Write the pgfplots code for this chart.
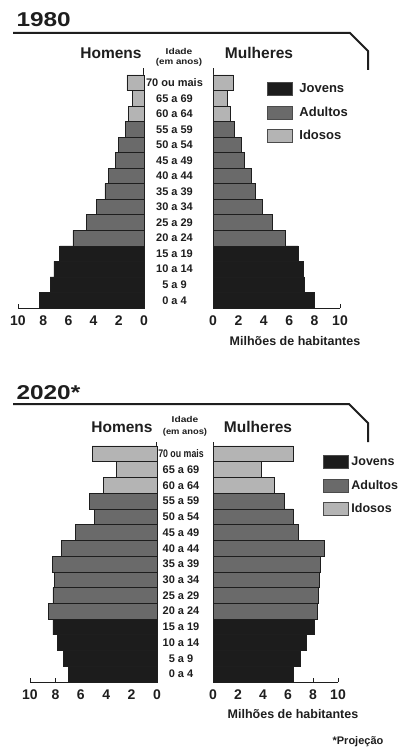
\documentclass[border=0pt]{standalone}
\usepackage{pgfplots}
\pgfplotsset{compat=1.18}
\usepackage{fontspec}
\setmainfont{Liberation Sans}
\definecolor{jov}{HTML}{1C1C1C}
\definecolor{adu}{HTML}{6A6A6A}
\definecolor{ido}{HTML}{B4B4B4}
\definecolor{ink}{HTML}{1E1E1E}
\newcommand{\fs}[1]{\fontsize{#1}{#1}\selectfont}
\newlength{\leggap}
\pgfplotsset{
  pyr/.style={
    scale only axis, anchor=south west,
    xbar, xmin=0, xmax=10, xtick={0,2,...,10}, ytick={0,...,14},
    axis x line*=bottom,
    axis line style={ink, line width=1pt, -},
    xtick align=inside, major tick length=4pt,
    tick style={ink, line width=0.8pt}, ytick style={draw=none},
    xticklabel style={font=\fs{14}\bfseries, text=ink, yshift=-4pt},
    /pgf/number format/assume math mode=true,
    clip=false,
  },
  barst/.style={xbar, bar shift=0pt, bar width=1, draw=ink, line width=0.6pt,
    legend image code/.code={\draw[##1, draw=ink!80, line width=0.5pt] (0pt,-6.5pt) rectangle (25pt,6.5pt); \path[draw=none, fill=none] (0pt,0pt) -- (\leggap,0pt);}},
  leg/.style={legend style={draw=none, fill=none, inner sep=0pt,
    text=ink, row sep=10pt, nodes={inner sep=1pt}},
    legend cell align=left},
}
\begin{document}
\begin{tikzpicture}
\fill[white] (0pt,0pt) rectangle (401pt,-749pt);
% ---------- 1980 ----------
\node[font=\fs{20}\bfseries, anchor=base west, text=ink] at (13pt,-26.5pt) {\scalebox{1.22}[1]{1980}};
\draw[ink, line width=2pt] (13pt,-33pt) -- (350pt,-33pt) -- (368pt,-51pt) -- (368pt,-70pt);
\node[font=\fs{15.5}\bfseries, text=ink] at (111pt,-53pt) {Homens};
\node[font=\fs{15.5}\bfseries, text=ink] at (259pt,-53pt) {Mulheres};
\node[font=\fs{8.5}\bfseries, text=ink] at (179pt,-51pt) {\scalebox{1.2}[1]{Idade}};
\node[font=\fs{8.5}\bfseries, text=ink] at (179pt,-62pt) {\scalebox{1.15}[1]{(em anos)}};
\node[font=\fs{12.5}\bfseries, text=ink] at (295pt,-341pt) {Milhões de habitantes};

\begin{axis}[pyr, at={(18pt,-308pt)}, width=126pt, height=240pt,
  x dir=reverse, ymin=-0.5, ymax=14.95, axis y line*=right, yticklabels={}]
\addplot[barst, fill=jov] coordinates {(8.3,0) (7.45,1) (7.15,2) (6.7,3)};
\addplot[barst, fill=adu] coordinates {(5.65,4) (4.6,5) (3.75,6) (3.1,7) (2.85,8) (2.3,9) (2.0,10) (1.5,11)};
\addplot[barst, fill=ido] coordinates {(1.25,12) (0.95,13) (1.35,14)};
\end{axis}

\setlength{\leggap}{31pt}
\begin{axis}[pyr, leg, at={(213pt,-308pt)}, width=127pt, height=240pt,
  ymin=-0.5, ymax=14.95, axis y line*=left,
  yticklabels={0 a 4,5 a 9,10 a 14,15 a 19,20 a 24,25 a 29,30 a 34,35 a 39,40 a 44,45 a 49,50 a 54,55 a 59,60 a 64,65 a 69,70 ou mais},
  yticklabel style={anchor=center, xshift=-34.5pt, font=\fs{11}\bfseries, text=ink},
  legend style={at={(0.425,0.942)}, anchor=north west, font=\fs{13}\bfseries}]
\addplot[barst, fill=jov] coordinates {(8.0,0) (7.2,1) (7.1,2) (6.7,3)};
\addplot[barst, fill=adu] coordinates {(5.7,4) (4.7,5) (3.9,6) (3.3,7) (3.0,8) (2.5,9) (2.25,10) (1.7,11)};
\addplot[barst, fill=ido] coordinates {(1.35,12) (1.1,13) (1.6,14)};
\legend{Jovens, Adultos, Idosos}
\end{axis}

% ---------- 2020 ----------
\node[font=\fs{20}\bfseries, anchor=base west, text=ink] at (13pt,-399.5pt) {\scalebox{1.22}[1]{2020*}};
\draw[ink, line width=2pt] (13pt,-404pt) -- (349pt,-404pt) -- (368pt,-423pt) -- (368pt,-442pt);
\node[font=\fs{15.5}\bfseries, text=ink] at (122pt,-427pt) {Homens};
\node[font=\fs{15.5}\bfseries, text=ink] at (258pt,-427pt) {Mulheres};
\node[font=\fs{8.5}\bfseries, text=ink] at (185pt,-419pt) {\scalebox{1.2}[1]{Idade}};
\node[font=\fs{8.5}\bfseries, text=ink] at (185pt,-432pt) {\scalebox{1.1}[1]{(em anos)}};
\node[font=\fs{12.5}\bfseries, text=ink] at (293pt,-714pt) {Milhões de habitantes};
\node[font=\fs{11}\bfseries, text=ink] at (358pt,-742pt) {*Projeção};

\begin{axis}[pyr, at={(30pt,-682pt)}, width=127pt, height=240pt,
  x dir=reverse, ymin=-0.5, ymax=14.75, axis y line*=right, yticklabels={}]
\addplot[barst, fill=jov] coordinates {(7.0,0) (7.4,1) (7.85,2) (8.2,3)};
\addplot[barst, fill=adu] coordinates {(8.55,4) (8.2,5) (8.1,6) (8.25,7) (7.5,8) (6.45,9) (4.95,10) (5.35,11)};
\addplot[barst, fill=ido] coordinates {(4.25,12) (3.2,13) (5.1,14)};
\end{axis}

\setlength{\leggap}{27pt}
\begin{axis}[pyr, leg, at={(213pt,-682pt)}, width=125pt, height=240pt,
  ymin=-0.5, ymax=14.75, axis y line*=left,
  yticklabels={0 a 4,5 a 9,10 a 14,15 a 19,20 a 24,25 a 29,30 a 34,35 a 39,40 a 44,45 a 49,50 a 54,55 a 59,60 a 64,65 a 69,{\scalebox{0.8}[1]{70 ou mais}}},
  yticklabel style={anchor=center, xshift=-28pt, font=\fs{11}\bfseries, text=ink},
  legend style={at={(0.88,0.946)}, anchor=north west, font=\fs{12.5}\bfseries}]
\addplot[barst, fill=jov] coordinates {(6.4,0) (7.0,1) (7.5,2) (8.1,3)};
\addplot[barst, fill=adu] coordinates {(8.35,4) (8.4,5) (8.5,6) (8.6,7) (8.9,8) (6.8,9) (6.4,10) (5.7,11)};
\addplot[barst, fill=ido] coordinates {(4.9,12) (3.9,13) (6.4,14)};
\legend{Jovens, Adultos, Idosos}
\end{axis}

\pgfresetboundingbox
\path[use as bounding box] (0pt,0pt) rectangle (401pt,-749pt);
\end{tikzpicture}
\end{document}
